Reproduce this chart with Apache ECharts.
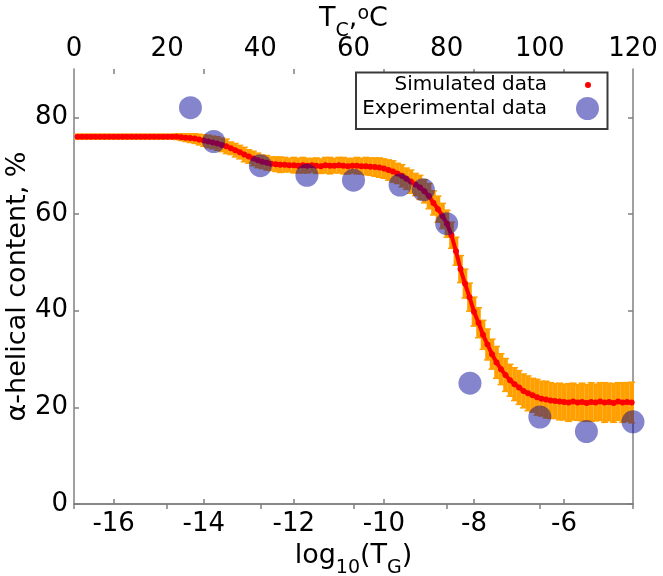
<!DOCTYPE html>
<html><head><meta charset="utf-8">
<script src="https://cdn.jsdelivr.net/npm/echarts@6/dist/echarts.min.js"></script>
<style>html,body{margin:0;padding:0;background:#fff}#c{width:663px;height:576px}</style>
</head><body><div id="c"></div>
<script>
// Simulated data: log10(TG) -> alpha-helical content (%), with error
const simX = [
-16.8,-16.7,-16.6,-16.5,-16.4,-16.3,-16.2,-16.1,-16.0,-15.9,-15.8,-15.7,-15.6,-15.5,-15.4,-15.3,-15.2,-15.1,-15.0,-14.9,-14.8,-14.7,-14.6,
-14.5,-14.4,-14.3,-14.2,-14.1,-14.0,-13.9,-13.8,-13.7,-13.6,-13.5,
-13.4,-13.3,-13.2,-13.1,-13.0,-12.9,-12.8,-12.7,-12.6,-12.5,-12.4,-12.3,-12.2,-12.1,-12.0,-11.9,-11.8,-11.7,-11.6,-11.5,-11.4,-11.3,-11.2,-11.1,-11.0,-10.9,-10.8,-10.7,-10.6,-10.5,-10.4,-10.3,-10.2,-10.1,-10.0,
-9.9,-9.8,-9.7,-9.6,-9.5,-9.4,-9.3,-9.2,-9.1,-9.0,-8.9,-8.8,-8.7,-8.6,-8.5,-8.4,-8.3,-8.2,-8.1,-8.0,-7.9,-7.8,-7.7,-7.6,-7.5,-7.4,-7.3,-7.2,-7.1,-7.0,
-6.9,-6.8,-6.7,-6.6,-6.5,-6.4,-6.3,-6.2,-6.1,-6.0,-5.9,-5.8,-5.7,-5.6,-5.5,-5.4,-5.3,-5.2,-5.1,-5.0,-4.9,-4.8,-4.7,-4.6,-4.5
];
const simY = [
76.0,76.0,76.0,76.0,76.0,76.0,76.0,76.0,76.0,76.0,76.0,76.0,76.0,76.0,76.0,76.0,76.0,76.0,76.0,76.0,76.0,76.0,76.0,
75.9,75.8,75.7,75.6,75.4,75.2,75.0,74.8,74.6,74.3,74.0,
73.6,73.2,72.8,72.3,71.9,71.5,71.1,70.8,70.6,70.4,70.3,70.2,70.2,70.1,70.1,70.0,70.1,70.0,70.1,70.0,69.9,70.1,70.0,70.0,70.1,70.0,69.9,70.0,70.0,69.9,69.9,69.8,69.7,69.6,69.4,
69.1,68.8,68.4,67.9,67.3,66.7,66.1,65.5,64.7,63.7,62.3,61.0,59.6,58.0,55.6,52.3,48.6,45.6,42.8,39.8,37.5,35.0,33.0,31.0,29.3,27.9,26.7,25.6,24.8,24.1,
23.4,22.9,22.5,22.1,21.8,21.6,21.4,21.3,21.2,21.1,21.0,21.2,21.0,21.1,20.9,21.1,21.0,21.2,21.0,21.1,20.9,21.2,21.0,21.1,21.0
];
const simErr = [
0.5,0.5,0.5,0.5,0.5,0.5,0.5,0.5,0.5,0.5,0.5,0.5,0.5,0.5,0.5,0.5,0.5,0.5,0.5,0.5,0.5,0.5,0.6,
0.7,0.8,0.9,1.0,1.1,1.2,1.3,1.3,1.4,1.4,1.5,
1.3,1.4,1.4,1.5,1.4,1.5,1.5,1.4,1.5,1.4,1.5,1.6,1.5,1.4,1.6,1.5,1.6,1.5,1.4,1.6,1.5,1.6,1.7,1.5,1.6,1.7,1.6,1.5,1.7,1.6,1.8,1.8,1.9,2.0,2.0,
2.1,2.2,2.1,2.3,2.2,2.4,2.3,2.5,2.4,2.6,2.5,2.7,2.6,2.8,2.7,2.9,2.8,3.0,2.9,3.0,3.1,3.0,3.2,3.1,3.3,3.2,3.4,3.3,3.4,3.5,
3.5,3.6,3.5,3.7,3.6,3.8,3.7,3.6,3.8,3.7,3.9,3.8,3.7,3.9,3.8,4.0,3.8,3.9,4.1,3.9,4.0,3.9,4.1,4.0,4.2
];
// Experimental data: temperature (C) -> alpha-helical content (%)
const expTemp = [25, 30, 40, 50, 60, 70, 75, 80, 85, 100, 110, 120];
const expHelix = [82, 75, 70, 68, 67, 66, 65, 58, 25, 18, 15, 17];
// Tick labels
const bottomTicks = [-16, -14, -12, -10, -8, -6];
const topTicks = [0, 20, 40, 60, 80, 100, 120];
const yTicks = [0, 20, 40, 60, 80];

const FONT = 'DejaVu Sans';
const AX = '#808080';
const chart = echarts.init(document.getElementById('c'), null, {renderer: 'canvas'});

const axisLineStyle = {show: true, lineStyle: {color: AX, width: 1.5}};
const tickStyle = (vals) => ({show: true, inside: true, length: 5, customValues: vals, lineStyle: {color: AX, width: 1.5}});
const labelStyle = (vals, margin) => ({show: true, customValues: vals, fontSize: 26, fontFamily: FONT, color: '#000', margin: margin});

const nameRich = {
  n: {fontSize: 27, fontFamily: FONT, color: '#000', lineHeight: 36, verticalAlign: 'top'},
  s: {fontSize: 19, fontFamily: FONT, color: '#000', lineHeight: 19, verticalAlign: 'bottom'},
  p: {fontSize: 19, fontFamily: FONT, color: '#000', lineHeight: 19, verticalAlign: 'top'}
};

const option = {
  animation: false,
  backgroundColor: '#fff',
  grid: {left: 74, right: 30, top: 69, bottom: 72, containLabel: false, outerBoundsMode: 'none'},
  legend: [
    {data: [{name: 'Simulated data', icon: 'circle'}], orient: 'vertical', align: 'right', right: 72, top: 75,
     itemWidth: 6, itemHeight: 6, padding: 0, selectedMode: false, z: 10,
     textStyle: {fontSize: 20, fontFamily: FONT, color: '#000', padding: [0, 33, 0, 0]}},
    {data: [{name: 'Experimental data', icon: 'circle'}], orient: 'vertical', align: 'right', right: 64, top: 97,
     itemWidth: 23, itemHeight: 23, padding: 0, selectedMode: false, z: 10,
     textStyle: {fontSize: 20, fontFamily: FONT, color: '#000', padding: [0, 24, 0, 0]}}
  ],
  graphic: [
    {type: 'rect', z: 9, shape: {x: 356, y: 72.5, width: 251.5, height: 56.5},
     style: {fill: 'rgba(255,255,255,0.9)', stroke: '#3a3a3a', lineWidth: 2}},
    {type: 'text', z: 10, x: 353.5, y: 5,
     style: {text: '{n|T}{s|C}{n|,}{p|o}{n|C}', rich: nameRich, align: 'center', verticalAlign: 'top'}}
  ],
  xAxis: [
    {type: 'value', position: 'bottom', min: -16.88, max: -4.47,
     axisLine: axisLineStyle, axisTick: tickStyle(bottomTicks), axisLabel: labelStyle(bottomTicks, 7),
     splitLine: {show: false},
     name: '{n|log}{s|10}{n|(T}{s|G}{n|)}', nameLocation: 'middle', nameGap: 38, nameMoveOverlap: false,
     nameTextStyle: {rich: nameRich}},
    {type: 'value', position: 'top', min: 0, max: 120, interval: 20,
     axisLine: axisLineStyle, axisTick: tickStyle(topTicks), axisLabel: labelStyle(topTicks, 7),
     splitLine: {show: false}},
    {type: 'value', position: 'top', min: -16.88, max: -4.47,
     axisLine: {show: false}, axisTick: tickStyle(bottomTicks), axisLabel: {show: false},
     splitLine: {show: false}}
  ],
  yAxis: [
    {type: 'value', position: 'left', min: 0, max: 90,
     axisLine: axisLineStyle, axisTick: tickStyle(yTicks), axisLabel: labelStyle(yTicks, 6),
     splitLine: {show: false},
     name: 'α-helical content, %', nameLocation: 'middle', nameGap: 43, nameRotate: 90, nameMoveOverlap: false,
     nameTextStyle: {fontSize: 27, fontFamily: FONT, color: '#000'}},
    {type: 'value', position: 'right', min: 0, max: 90,
     axisLine: axisLineStyle, axisTick: tickStyle(yTicks), axisLabel: {show: false},
     splitLine: {show: false}}
  ],
  series: [
    {
      type: 'custom', name: 'err', xAxisIndex: 0, yAxisIndex: 0, z: 2, silent: true,
      data: simX.map((x, i) => [x, simY[i], simErr[i]]),
      encode: {x: 0, y: 1},
      renderItem: function (params, api) {
        const x = api.value(0), y = api.value(1), e = api.value(2);
        const hi = api.coord([x, y + e]);
        const lo = api.coord([x, y - e]);
        const cw = 3.5;
        const st = {stroke: '#ffa000', lineWidth: 4.6};
        const cs = {stroke: '#ffa000', lineWidth: 1.5};
        return {type: 'group', children: [
          {type: 'line', shape: {x1: hi[0], y1: hi[1], x2: lo[0], y2: lo[1]}, style: st},
          {type: 'line', shape: {x1: hi[0] - cw, y1: hi[1], x2: hi[0] + cw, y2: hi[1]}, style: cs},
          {type: 'line', shape: {x1: lo[0] - cw, y1: lo[1], x2: lo[0] + cw, y2: lo[1]}, style: cs}
        ]};
      }
    },
    {
      type: 'line', name: 'Simulated data', xAxisIndex: 0, yAxisIndex: 0, z: 3,
      data: simX.map((x, i) => [x, simY[i]]),
      symbol: 'circle', symbolSize: 6, showSymbol: true,
      lineStyle: {color: '#ff0000', width: 4},
      itemStyle: {color: '#ff0000'}
    },
    {
      type: 'scatter', name: 'Experimental data', xAxisIndex: 1, yAxisIndex: 0, z: 4,
      data: expTemp.map((t, i) => [t, expHelix[i]]),
      symbol: 'circle', symbolSize: 23,
      itemStyle: {color: 'rgba(0,0,150,0.6)'}
    }
  ]
};
chart.setOption(option);
</script>
</body></html>
